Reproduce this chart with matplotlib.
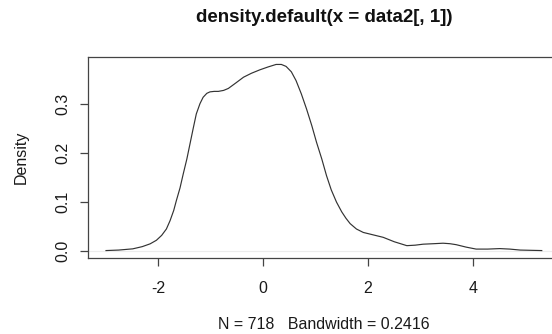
import matplotlib
matplotlib.use("Agg")
from matplotlib import pyplot as plt

plt.rcParams['font.family'] = ['Liberation Sans', 'DejaVu Sans']

# density curve (x, density)
dens_x = [-2.99, -2.75, -2.48, -2.30, -2.15, -2.03, -1.93, -1.84, -1.77, -1.70, -1.65,
          -1.58, -1.52, -1.45, -1.39, -1.33, -1.27, -1.20, -1.14, -1.07, -1.01, -0.93,
          -0.85, -0.75, -0.66, -0.52, -0.37, -0.22, -0.06, 0.10, 0.25, 0.35, 0.44,
          0.54, 0.63, 0.73, 0.83, 0.93, 1.02, 1.12, 1.21, 1.30, 1.40, 1.50, 1.58,
          1.66, 1.78, 1.91, 2.10, 2.29, 2.50, 2.74, 2.90, 3.05, 3.25, 3.43, 3.56,
          3.68, 3.87, 4.06, 4.28, 4.51, 4.70, 4.90, 5.10, 5.31]
dens_y = [0.000, 0.001, 0.0035, 0.008, 0.0137, 0.021, 0.031, 0.044, 0.061, 0.082, 0.102,
          0.128, 0.156, 0.187, 0.218, 0.249, 0.279, 0.300, 0.313, 0.321, 0.324, 0.325,
          0.325, 0.327, 0.331, 0.342, 0.354, 0.362, 0.369, 0.375, 0.380, 0.380, 0.376,
          0.365, 0.347, 0.320, 0.289, 0.255, 0.221, 0.187, 0.153, 0.124, 0.099, 0.079, 0.066,
          0.055, 0.044, 0.037, 0.032, 0.027, 0.018, 0.010, 0.011, 0.013, 0.014,
          0.015, 0.014, 0.012, 0.007, 0.003, 0.003, 0.004, 0.003, 0.001, 0.0005, 0.000]

n_obs = 718
bandwidth = 0.2416
x_ticks = [-2, 0, 2, 4]
y_ticks = [0.0, 0.1, 0.2, 0.3]

fig = plt.figure(figsize=(5.52, 3.34), dpi=100)
ax = fig.add_axes([88 / 552, 76 / 334, 472.5 / 552, 201 / 334])

ax.axhline(0, color='#ececec', lw=0.8, zorder=1)
ax.plot(dens_x, dens_y, color='#333333', lw=0.85, zorder=2)

ax.set_xlim(-3.333, 5.667)
ax.set_ylim(-0.0152, 0.3952)
ax.set_xticks(x_ticks)
ax.set_xticklabels([str(t) for t in x_ticks])
ax.set_yticks(y_ticks)
ax.set_yticklabels(["%.1f" % t for t in y_ticks], rotation=90, va='center')

for s in ax.spines.values():
    s.set_color('#444444')
    s.set_linewidth(0.9)
ax.tick_params(axis='both', direction='out', length=5.5, width=0.9, color='#444444',
               labelsize=11.5, labelcolor='#1a1a1a')
ax.tick_params(axis='x', pad=11)
ax.tick_params(axis='y', pad=7)

ax.set_xlabel("N = %d   Bandwidth = %s" % (n_obs, bandwidth), fontsize=11.5,
              color='#1a1a1a', labelpad=15.5)
ax.set_ylabel("Density", fontsize=11.5, color='#1a1a1a', labelpad=19)
fig.text(324 / 552, 1 - 18 / 334, "density.default(x = data2[, 1])", ha='center', va='center',
         fontsize=13.5, fontweight='bold', color='#111111')

plt.savefig("out.png", dpi=100)
